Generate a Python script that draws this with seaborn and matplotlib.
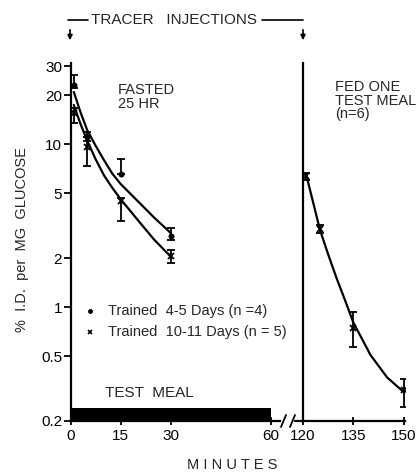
import numpy as np
import pandas as pd
import seaborn as sns
import matplotlib
matplotlib.use("Agg")
import matplotlib.pyplot as plt
from matplotlib.lines import Line2D

# ---------------- data ----------------
# Fasted 25 hr, trained 4-5 days (dots)
t_a = [1, 5, 15, 30]
v_a = [23.0, 11.0, 6.6, 2.75]
hi_a = [26.5, 11.8, 8.1, 3.05]
lo_a = [22.0, 10.5, 6.6, 2.6]

# Fasted 25 hr, trained 10-11 days (x)
t_b = [1, 5, 15, 30]
v_b = [15.5, 9.6, 4.45, 2.05]
hi_b = [16.6, 11.0, 4.7, 2.23]
lo_b = [13.5, 7.3, 3.4, 1.86]

# Fitted curves (left panel)
curve_t = [1, 3, 5, 7.5, 10, 12.5, 15, 20, 25, 30]
curve_a = [20.9, 15.7, 12.2, 9.8, 8.0, 6.6, 5.7, 4.5, 3.55, 2.85]
curve_b = [17.4, 13.3, 10.5, 8.1, 6.45, 5.4, 4.6, 3.45, 2.6, 2.04]

# Fed one test meal (n=6)
t_c = [121, 125, 135, 150]
v_c = [6.4, 3.0, 0.74, 0.31]
hi_c = [6.7, 3.2, 0.93, 0.36]
lo_c = [6.0, 2.85, 0.57, 0.245]
curve_tc = [121, 123, 125, 127.5, 130, 132.5, 135, 137.5, 140, 145, 150]
curve_c = [6.45, 4.4, 3.0, 2.1, 1.5, 1.1, 0.8, 0.64, 0.51, 0.37, 0.30]

ytick_vals = [0.2, 0.5, 1, 2, 5, 10, 20, 30]
ytick_labels = ["0.2", "0.5", "1", "2", "5", "10", "20", "30"]
xticks_left = [0, 15, 30, 60]
xticks_right = [120, 135, 150]
meal_span = [0, 60]
meal_band = [0.2, 0.24]

# ---------------- style ----------------
sns.set_theme(style="white")
plt.rcParams["font.family"] = ["Liberation Sans", "DejaVu Sans"]
FS = 10.5
TFS = 11

W, H = 417, 472
fig = plt.figure(figsize=(W / 100, H / 100), dpi=100)

bottom = (H - 421) / H
top = (H - 63) / H
axL = fig.add_axes([70.5 / W, bottom, (280 - 70.5) / W, top - bottom])
axR = fig.add_axes([303 / W, bottom, (405 - 303) / W, top - bottom], sharey=axL)

ylim = (0.2, 31.5)
for ax in (axL, axR):
    ax.set_yscale("log")
    ax.set_ylim(*ylim)
    for s in ("top", "right"):
        ax.spines[s].set_visible(False)
    for s in ("left", "bottom"):
        ax.spines[s].set_color("black")
        ax.spines[s].set_linewidth(1.6)
    ax.set_facecolor("none")
    ax.minorticks_off()

axL.set_xlim(0, 62.7)
axR.set_xlim(120, 150.3)

# curves
sns.lineplot(x=curve_t, y=curve_a, ax=axL, color="black", lw=1.6)
sns.lineplot(x=curve_t, y=curve_b, ax=axL, color="black", lw=1.6)
sns.lineplot(x=curve_tc, y=curve_c, ax=axR, color="black", lw=1.6)


def ebar(ax, t, v, hi, lo, marker, ms):
    v = np.array(v)
    yerr = [v - np.array(lo), np.array(hi) - v]
    ax.errorbar(t, v, yerr=yerr, fmt="none", ecolor="black", elinewidth=1.3,
                capsize=3, capthick=1.3)
    ax.plot(t, v, linestyle="none", marker=marker, color="black", ms=ms, mew=1.3)


ebar(axL, t_a, v_a, hi_a, lo_a, "o", 3)
ebar(axL, t_b, v_b, hi_b, lo_b, "x", 4)
ebar(axR, t_c, v_c, hi_c, lo_c, "x", 4)

# test meal bar
axL.fill_between(meal_span, meal_band[0], meal_band[1], color="black", lw=0)

# ticks
axL.set_yticks(ytick_vals)
axL.set_yticklabels(ytick_labels)
axL.tick_params(axis="y", direction="out", length=5, width=1.3, labelsize=TFS, pad=1,
                left=True, colors="black")
axL.set_xticks(xticks_left)
axL.tick_params(axis="x", direction="inout", length=6, width=1.3, labelsize=TFS, pad=3,
                bottom=True, colors="black")
axR.set_xticks(xticks_right)
axR.tick_params(axis="x", direction="inout", length=6, width=1.3, labelsize=TFS, pad=3,
                bottom=True, colors="black")
axR.tick_params(axis="y", left=False, labelleft=False)

# annotations inside
axL.text(14.2, 19.5, "FASTED\n25 HR", fontsize=FS, ha="left", va="center",
         linespacing=0.95)
axR.text(129.5, 18.5, "FED ONE\nTEST MEAL\n(n=6)", fontsize=FS, ha="left", va="center",
         linespacing=0.95)
axL.text(23.5, 0.295, "TEST  MEAL", fontsize=11, ha="center", va="center")

# legend as text
axL.plot([5.8], [0.95], marker="o", color="black", ms=2.5, linestyle="none")
axL.text(11.3, 0.95, "Trained  4-5 Days (n =4)", fontsize=10.5, ha="left", va="center")
axL.plot([5.8], [0.70], marker="x", color="black", ms=3.5, mew=1.2, linestyle="none")
axL.text(11.3, 0.70, "Trained  10-11 Days (n = 5)", fontsize=10.5, ha="left", va="center")

# labels
fig.text(22 / W, 1 - 240 / H, "%  I.D.  per  MG  GLUCOSE", rotation=90, fontsize=10.5,
         ha="center", va="center")
fig.text(232 / W, 1 - 465 / H, "M I N U T E S", fontsize=10.5, ha="center", va="center")

# tracer injections header
yh = 1 - 20 / H
fig.add_artist(Line2D([68 / W, 88 / W], [yh, yh], color="black", lw=1.2))
fig.add_artist(Line2D([262 / W, 303 / W], [yh, yh], color="black", lw=1.2))
fig.text(174 / W, yh, "TRACER   INJECTIONS", fontsize=11, ha="center", va="center")
for xa in (70, 303):
    fig.add_artist(matplotlib.patches.FancyArrowPatch(
        (xa / W, 1 - 27 / H), (xa / W, 1 - 43 / H), transform=fig.transFigure,
        arrowstyle="-|>", mutation_scale=7, color="black", lw=1.2))

# axis break marks
yb = 1 - 421 / H
for x0 in (281, 290):
    fig.add_artist(Line2D([x0 / W, (x0 + 5) / W], [yb - 6 / H, yb + 6 / H],
                          color="black", lw=1.3))
fig.add_artist(Line2D([295 / W, 303 / W], [yb, yb], color="black", lw=1.6))

fig.savefig("out.png", dpi=100, facecolor="white")
